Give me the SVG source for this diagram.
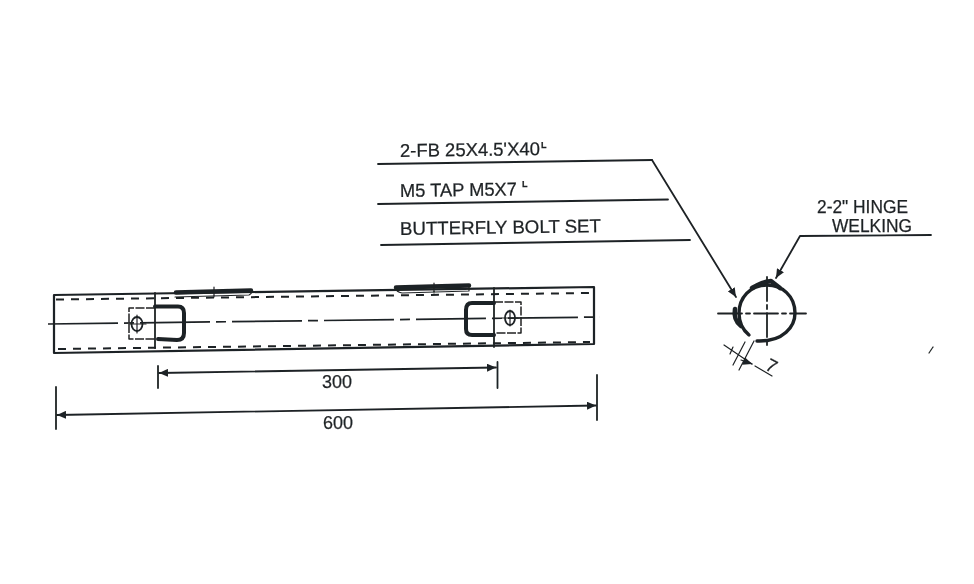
<svg xmlns="http://www.w3.org/2000/svg" width="974" height="584" viewBox="0 0 974 584">
<style>
.l{fill:none;stroke:#1f2225;stroke-width:1.8;stroke-linecap:round;stroke-linejoin:round}
.o{stroke-width:2.2}
.t{stroke-width:1.2}
.h{stroke-width:4}
.d{stroke-dasharray:8 7;stroke-linecap:butt;stroke-width:2}
.c{stroke-dasharray:70 6 10 6;stroke-linecap:butt;stroke-width:1.7}
.r{stroke-dasharray:9 1.500;stroke-linecap:butt;stroke-width:1.5}
text{font-family:"Liberation Sans",Arial,sans-serif;font-size:18.500px;fill:#1f2225;stroke:#1f2225;stroke-width:.25}
</style>
<defs>
<marker id="a" markerWidth="10" markerHeight="8" refX="9" refY="4" orient="auto-start-reverse" markerUnits="userSpaceOnUse"><path d="M0 0L9 4L0 8Z" fill="#1f2225"/></marker>
<filter id="b" x="-5%" y="-5%" width="110%" height="110%"><feGaussianBlur stdDeviation="0.35"/></filter>
</defs>
<g id="side-view" filter="url(#b)">
<path class="l o" d="M54 353V295L155 293.500 594 287V344L54 353"/>
<path class="l" d="M155 293V348M494 288V347"/>
<path class="l d" d="M56 299.500L590 293M58 349L590 342"/>
<path class="l c" d="M48 324L600 317"/>
<path class="l r" d="M155 308H129V339H155M494 302H521V333H494"/>
<ellipse class="l" cx="137" cy="324" rx="5.500" ry="7"/>
<ellipse class="l" cx="510" cy="318" rx="5" ry="7"/>
<path class="l t" d="M130 324H146M137 315V333M502 318H518M510 310V326"/>
<path class="l h" d="M155 306.500H178Q184 306.500 184 313V333Q184 340 177 340L158 339"/>
<path class="l h" d="M494 303H472Q466 303 466 310V329Q466 335 472 335H494"/>
<path class="l h" style="stroke-width:4.500" d="M176 292.500L251 290.500"/>
<path class="l t" d="M175 297L249 295Q253 293 251 290M214 287V297"/>
<path class="l h" style="stroke-width:4.500" d="M396 287.500L469 285.500"/>
<path class="l t" d="M396 288Q396 292 402 293L469 291V286M434 283V293"/>
</g>
<g id="dimensions" filter="url(#b)">
<path class="l" d="M158 366V388M497.500 362V388M56 387V429M597 375V420"/>
<path class="l" marker-start="url(#a)" marker-end="url(#a)" d="M159 373L496 367.500"/>
<path class="l" marker-start="url(#a)" marker-end="url(#a)" d="M57 415L596 405.500"/>
<text x="322" y="388" textLength="30" lengthAdjust="spacingAndGlyphs">300</text>
<text x="323" y="429" textLength="30" lengthAdjust="spacingAndGlyphs">600</text>
</g>
<g id="section-view" filter="url(#b)">
<path class="l" d="M718 313.500H806M767 277V348" stroke-dasharray="24 4 4 4"/>
<path class="l" style="stroke-width:3.400" d="M757 341C784 342 795 326 795 313C795 296 782 285 767 285C750 285 739 298 739 313C739 322 743 330 749 335"/>
<path class="l h" style="stroke-width:4.500" d="M735 309Q733 320 741 326M752 288Q762 282 771 281L780 288"/>
<path class="l t" d="M724 345L752 364M755 366L772 376M745 342L733 365M754 341L739 370M733 347L730 354"/>
<path class="l t" marker-end="url(#a)" d="M741 360L752 364"/>
<text transform="translate(764 369) rotate(28)">7</text>
<path class="l t" d="M929 353L933 347"/>
</g>
<g id="labels" filter="url(#b)">
<path class="l" d="M378 164L652 160"/>
<path class="l" marker-end="url(#a)" d="M652 160L736 297"/>
<path class="l" d="M378 204L668 199.500M381 245L690 240"/>
<path class="l" marker-end="url(#a)" d="M931 235L800 236L776 278"/>
<text x="400" y="157" textLength="140" lengthAdjust="spacingAndGlyphs" transform="rotate(-.8 400 157)">2-FB 25X4.5'X40</text>
<text x="541" y="148" style="font-size:9px;font-weight:bold">L</text>
<text x="400" y="197" textLength="117" lengthAdjust="spacingAndGlyphs" transform="rotate(-.8 400 197)">M5 TAP M5X7</text>
<text x="522" y="187" style="font-size:9px;font-weight:bold">L</text>
<text x="400" y="235" textLength="201" lengthAdjust="spacingAndGlyphs" transform="rotate(-.8 400 235)">BUTTERFLY BOLT SET</text>
<text x="817" y="213" textLength="91" lengthAdjust="spacingAndGlyphs">2-2" HINGE</text>
<text x="832" y="232" textLength="80" lengthAdjust="spacingAndGlyphs">WELKING</text>
</g>
</svg>
